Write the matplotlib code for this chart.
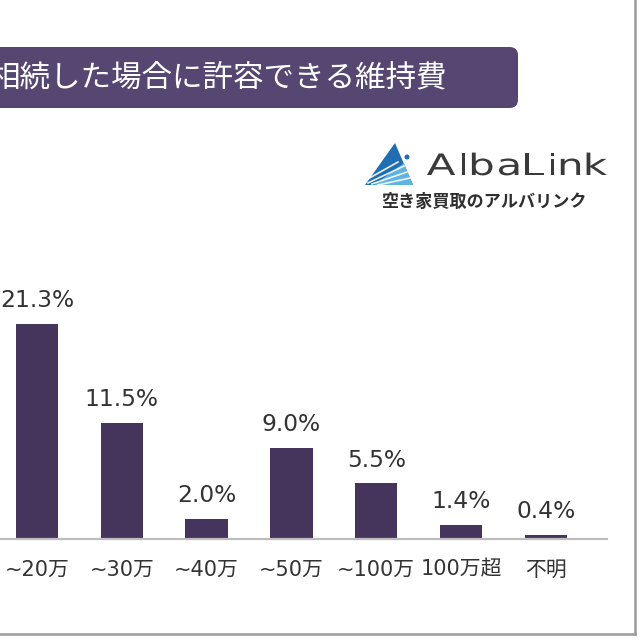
import matplotlib
matplotlib.use("Agg")
import matplotlib.pyplot as plt
from matplotlib.patches import FancyBboxPatch, Polygon, Circle, PathPatch
from matplotlib.lines import Line2D
from matplotlib.textpath import TextPath
from matplotlib.font_manager import FontProperties
from matplotlib.transforms import Affine2D

plt.rcParams['font.family'] = ['Noto Sans CJK JP', 'DejaVu Sans']

categories = ["~20万", "~30万", "~40万", "~50万", "~100万", "100万超", "不明"]
values = [21.3, 11.5, 2.0, 9.0, 5.5, 1.4, 0.4]
value_labels = ["21.3%", "11.5%", "2.0%", "9.0%", "5.5%", "1.4%", "0.4%"]
title = "相続した場合に許容できる維持費"
brand = "AlbaLink"
brand_sub = "空き家買取のアルバリンク"

W = H = 640
fig = plt.figure(figsize=(6.4, 6.4), dpi=100)
fig.patch.set_facecolor("white")

def fx(x):
    return x / W

def fy(y):
    return 1 - y / H

BAR = "#45345b"
TXT = "#333333"
LATIN = ['DejaVu Sans', 'Noto Sans CJK JP']

# axes
spacing = 84.8
first_center = 37
ax_right = 607
ax = fig.add_axes([0, fy(539), fx(ax_right), (539 - 286.5) / H])
x = list(range(len(values)))
ax.bar(x, values, width=0.5, color=BAR, zorder=2)
ax.set_xlim(-first_center / spacing, (ax_right - first_center) / spacing)
ax.set_ylim(0, 25)
for s in ["top", "right", "left"]:
    ax.spines[s].set_visible(False)
ax.spines["bottom"].set_color("#bdbdbd")
ax.spines["bottom"].set_linewidth(1.6)
ax.set_yticks([])
ax.set_xticks(x)
ax.set_xticklabels(categories, fontsize=15, color=TXT, family=LATIN)
ax.tick_params(axis="x", length=0, pad=15)
ax.patch.set_alpha(0)
for xi, v, lab in zip(x, values, value_labels):
    ax.annotate(lab, (xi, v), xytext=(0, 12.2), textcoords="offset points",
                ha="center", va="baseline", fontsize=16.8, color=TXT,
                family=LATIN, clip_on=False)

# title bar
box = FancyBboxPatch((fx(-30), fy(108)), fx(518 + 30), (108 - 47) / H,
                     boxstyle="round,pad=0,rounding_size=0.013",
                     transform=fig.transFigure, facecolor="#564672",
                     edgecolor="none", zorder=1)
fig.patches.append(box)
fig.text(fx(-11), fy(79), title, color="white", fontsize=22,
         ha="left", va="center", zorder=3)

# logo icon
tri = Polygon([(fx(365), fy(185)), (fx(395), fy(143)), (fx(413), fy(185))],
              closed=True, transform=fig.transFigure, facecolor="#1f6db3",
              edgecolor="none")
fig.patches.append(tri)
light = Polygon([(fx(374), fy(185)), (fx(404), fy(163)), (fx(413), fy(185))],
                closed=True, transform=fig.transFigure, facecolor="#5fb3e3",
                edgecolor="none")
fig.patches.append(light)
for (x0, y0, x1, y1) in [(368, 183, 404, 166), (372, 184, 407, 172),
                         (378, 185, 410, 178), (366, 180, 398, 162)]:
    fig.lines.append(Line2D([fx(x0), fx(x1)], [fy(y0), fy(y1)],
                            transform=fig.transFigure, color="white",
                            lw=1.2, alpha=0.9))
fig.patches.append(Circle((fx(407), fy(157)), 2.5 / W, transform=fig.transFigure,
                          facecolor="#1f6db3", edgecolor="none"))

# brand word: wide, evenly letter-spaced glyphs spanning x 427..607
fp = FontProperties(family='DejaVu Sans')
paths = [TextPath((0, 0), ch, size=1, prop=fp) for ch in brand]
exts = [p.get_extents() for p in paths]
gap = 6.5
left, right = 427, 607
total_w = sum(e.width for e in exts)
sx = (right - left - gap * (len(brand) - 1)) / total_w
sy = 21.5 / 0.729
cur = left
for p, e in zip(paths, exts):
    tr = (Affine2D().translate(-e.x0, 0).scale(sx / W, sy / H)
          .translate(fx(cur), fy(175)) + fig.transFigure)
    fig.patches.append(PathPatch(p, transform=tr, facecolor="#3a3a3a",
                                 edgecolor="none"))
    cur += e.width * sx + gap
fig.text(fx(484), fy(202), brand_sub, fontsize=12.3, color="#2e2e2e",
         ha="center", va="center", fontweight="bold")

# frame lines (right and bottom)
fig.lines.append(Line2D([fx(635), fx(635)], [fy(0), fy(634)],
                        transform=fig.transFigure, color="#9a9a9a", lw=1.8))
fig.lines.append(Line2D([fx(0), fx(635)], [fy(634), fy(634)],
                        transform=fig.transFigure, color="#9a9a9a", lw=1.8))

fig.savefig("out.png", dpi=100)
